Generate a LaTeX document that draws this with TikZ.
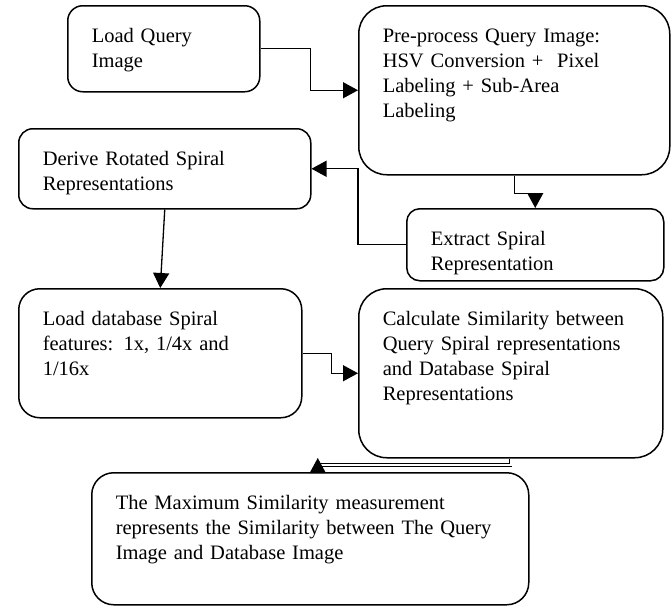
\documentclass[tikz,border=0pt]{standalone}
\usepackage{fontspec}
\setmainfont{Liberation Serif}
\usetikzlibrary{arrows.meta}

\begin{document}
\begin{tikzpicture}[x=1pt,y=-1pt,
  stepbox/.style={draw, line width=1.5pt, anchor=north west, align=left,
    inner xsep=24pt, inner ysep=0pt, text height=37pt,
    font=\fontsize{20.5}{25}\selectfont},
  flow/.style={line width=1.3pt, -{Triangle[length=15pt,width=16pt]}},
  dbl/.style={double, line width=0.8pt, double distance=1.6pt}]
\useasboundingbox (0,0) rectangle (672,606);
% steps
\node[stepbox, rounded corners=15pt, text width=144pt, text depth=49pt] (load) at (67,5) {Load Query\\Image};
\node[stepbox, rounded corners=28pt, text width=263pt, text depth=132pt] (prep) at (358,5) {Pre-process Query Image:\\HSV Conversion +\ \ Pixel\\Labeling + Sub-Area\\Labeling};
\node[stepbox, rounded corners=14pt, text width=244pt, text depth=43pt] (derive) at (18,128) {Derive Rotated Spiral\\Representations};
\node[stepbox, rounded corners=13pt, text width=209pt, text depth=35pt] (extract) at (406,208) {Extract Spiral\\Representation};
\node[stepbox, rounded corners=21pt, text width=235pt, text depth=92pt] (dbload) at (18,288) {Load database Spiral\\features: 1x, 1/4x and\\1/16x};
\node[stepbox, rounded corners=28pt, text width=256pt, text depth=132pt] (simil) at (358,288) {Calculate Similarity between\\Query Spiral representations\\and Database Spiral\\Representations};
\node[stepbox, rounded corners=22pt, text width=389pt, text depth=95pt] (maxsim) at (91,472) {The Maximum Similarity measurement\\represents the Similarity between The Query\\Image and Database Image};
% connectors
\draw[flow] (load.east) -- ++(50,0) |- (prep.west);
\draw[flow] (prep.south) -- ++(0,18) -| (extract.north);
\draw[flow] (extract.west) -- ++(-48,0) |- (derive.east);
\draw[flow] (derive.south) -- (dbload.north);
\draw[flow] (dbload.east) -- ++(29,0) |- (simil.west);
\draw[dbl] (simil.south) |- ([xshift=7.5pt,yshift=7pt]maxsim.north);
\draw[flow] ([xshift=7.5pt]maxsim.north) -- ++(0,-14);
\end{tikzpicture}
\end{document}
